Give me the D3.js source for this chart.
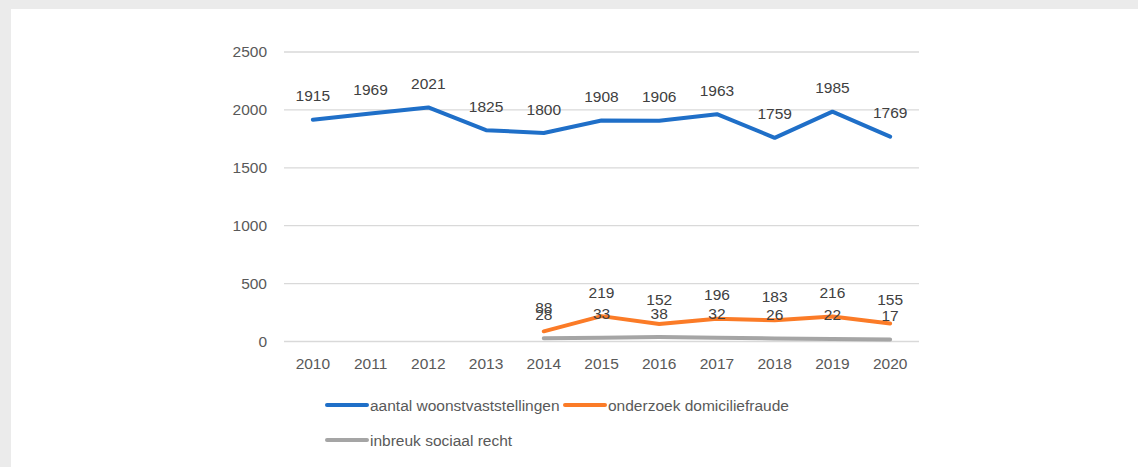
<!DOCTYPE html>
<html><head><meta charset="utf-8">
<script src="https://cdn.jsdelivr.net/npm/d3@7"></script>
<style>html,body{margin:0;padding:0;background:#ebebeb;}svg{display:block;}</style>
</head><body>
<script>
const years = ["2010","2011","2012","2013","2014","2015","2016","2017","2018","2019","2020"];
const woonst = [1915,1969,2021,1825,1800,1908,1906,1963,1759,1985,1769];
const domicilie = [null,null,null,null,88,219,152,196,183,216,155];
const sociaal = [null,null,null,null,28,33,38,32,26,22,17];
const yTicks = [0,500,1000,1500,2000,2500];
const seriesNames = ["aantal woonstvaststellingen","onderzoek domiciliefraude","inbreuk sociaal recht"];
const colors = ["#1f6fc8","#fb7b27","#a5a5a5"];

const W = 1138, H = 467;
const svg = d3.select("body").append("svg").attr("width", W).attr("height", H);
svg.append("rect").attr("x",11).attr("y",9).attr("width",W-11).attr("height",H-9).attr("fill","#fff");

const x = d3.scaleBand().domain(years).range([284, 919]);
const y = d3.scaleLinear().domain([0,2500]).range([341.5, 52]);
const font = "'Liberation Sans', Arial, sans-serif";
const fs = "15.5px";

// gridlines
svg.append("g").selectAll("line").data(yTicks).join("line")
  .attr("x1",284).attr("x2",919).attr("y1",d=>y(d)).attr("y2",d=>y(d))
  .attr("stroke","#d9d9d9").attr("stroke-width",1.3);

// y axis
const yAxis = svg.append("g").attr("transform","translate(284,0)")
  .call(d3.axisLeft(y).tickValues(yTicks).tickFormat(d3.format("d")).tickSize(0).tickPadding(17));
yAxis.select(".domain").remove();
yAxis.selectAll("text").attr("font-family",font).attr("font-size",fs).attr("fill","#595959");

// x axis
const xAxis = svg.append("g").attr("transform","translate(0,"+y(0)+")")
  .call(d3.axisBottom(x).tickSize(0).tickPadding(16));
xAxis.select(".domain").remove();
xAxis.selectAll("text").attr("font-family",font).attr("font-size",fs).attr("fill","#595959");

const cx = d => x(d) + x.bandwidth()/2;
const all = [woonst, domicilie, sociaal];
const line = d3.line().defined(d=>d.v!=null).x(d=>cx(d.year)).y(d=>y(d.v));

[2,1,0].forEach(i=>{
  const data = years.map((yr,j)=>({year:yr, v:all[i][j]}));
  svg.append("path").datum(data).attr("d",line)
    .attr("fill","none").attr("stroke",colors[i]).attr("stroke-width",4)
    .attr("stroke-linecap","round").attr("stroke-linejoin","round");
});
[2,1,0].forEach(i=>{
  const data = years.map((yr,j)=>({year:yr, v:all[i][j]})).filter(d=>d.v!=null);
  svg.append("g").selectAll("text").data(data).join("text")
    .attr("x",d=>cx(d.year)).attr("y",d=>y(d.v)-18.5)
    .attr("text-anchor","middle").attr("font-family",font).attr("font-size",fs)
    .attr("fill","#404040").text(d=>d.v);
});

// legend
const legendPos = [[327,405],[565,405],[327,440]];
seriesNames.forEach((n,i)=>{
  const [lx,ly] = legendPos[i];
  svg.append("line").attr("x1",lx).attr("x2",lx+40).attr("y1",ly).attr("y2",ly)
    .attr("stroke",colors[i]).attr("stroke-width",4).attr("stroke-linecap","round");
  svg.append("text").attr("x",lx+43).attr("y",ly+5.5).attr("font-family",font)
    .attr("font-size",fs).attr("fill","#595959").text(n);
});
</script>
</body></html>
